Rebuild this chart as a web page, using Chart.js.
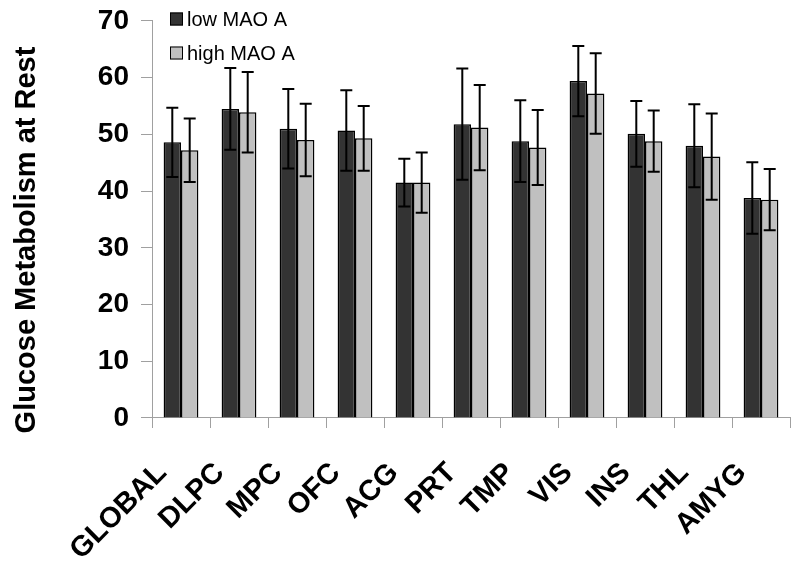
<!DOCTYPE html>
<html>
<head>
<meta charset="utf-8">
<script src="https://cdn.jsdelivr.net/npm/chart.js@4/dist/chart.umd.min.js"></script>
<style>
html,body{margin:0;padding:0;background:#fff;}
canvas{display:block;}
</style>
</head>
<body>
<canvas id="c" width="800" height="561"></canvas>
<script>
const categories = ['GLOBAL','DLPC','MPC','OFC','ACG','PRT','TMP','VIS','INS','THL','AMYG'];
const seriesNames = ['low MAO A','high MAO A'];
const lowMean  = [48.6, 54.5, 51.0, 50.7, 41.5, 51.8, 48.8, 59.4, 50.1, 48.0, 38.8];
const lowSD    = [ 6.1,  7.2,  7.0,  7.1,  4.2,  9.8,  7.2,  6.2,  5.8,  7.3,  6.3];
const highMean = [47.2, 53.9, 49.0, 49.3, 41.5, 51.2, 47.7, 57.2, 48.8, 46.1, 38.5];
const highSD   = [ 5.6,  7.1,  6.4,  5.7,  5.3,  7.5,  6.6,  7.1,  5.4,  7.6,  5.4];
const yTicks   = [0, 10, 20, 30, 40, 50, 60, 70];
const yTitle   = 'Glucose Metabolism at Rest';

const FONT = '"Liberation Sans", Arial, sans-serif';
const errs = [lowSD, highSD];

const errorBars = {
  id: 'errorBars',
  afterDatasetsDraw(chart) {
    const ctx = chart.ctx, ys = chart.scales.y;
    ctx.save();
    ctx.strokeStyle = '#000';
    ctx.lineWidth = 2;
    chart.data.datasets.forEach((ds, di) => {
      const meta = chart.getDatasetMeta(di);
      meta.data.forEach((bar, i) => {
        const v = ds.data[i], e = errs[di][i];
        const yT = ys.getPixelForValue(v + e), yB = ys.getPixelForValue(v - e);
        const x = bar.x, cw = 6;
        ctx.beginPath();
        ctx.moveTo(x, yT); ctx.lineTo(x, yB);
        ctx.moveTo(x - cw, yT); ctx.lineTo(x + cw, yT);
        ctx.moveTo(x - cw, yB); ctx.lineTo(x + cw, yB);
        ctx.stroke();
      });
    });
    ctx.restore();
  }
};

const customLegendTitle = {
  id: 'customLegendTitle',
  afterDraw(chart) {
    const ctx = chart.ctx, ca = chart.chartArea;
    ctx.save();
    chart.data.datasets.forEach((ds, i) => {
      const cy = 19 + i * 34;
      const sx = ca.left + 18;
      ctx.fillStyle = ds.backgroundColor;
      ctx.fillRect(sx, cy - 6.5, 13, 13);
      ctx.strokeStyle = '#000';
      ctx.lineWidth = 1;
      ctx.strokeRect(sx + 0.5, cy - 6, 12, 12);
      ctx.fillStyle = '#000';
      ctx.font = '20px ' + FONT;
      ctx.textAlign = 'left';
      ctx.textBaseline = 'middle';
      ctx.fillText(ds.label, sx + 17, cy + 1);
    });
    ctx.translate(35, 240);
    ctx.rotate(-Math.PI / 2);
    ctx.font = 'bold 29px ' + FONT;
    ctx.textAlign = 'center';
    ctx.textBaseline = 'alphabetic';
    ctx.fillStyle = '#000';
    ctx.fillText(yTitle, 0, 0);
    ctx.restore();
  }
};

new Chart(document.getElementById('c'), {
  type: 'bar',
  data: {
    labels: categories,
    datasets: [
      { label: seriesNames[0], data: lowMean, backgroundColor: '#333333', borderColor: '#000', borderWidth: 1.5, barPercentage: 1.0, categoryPercentage: 0.6 },
      { label: seriesNames[1], data: highMean, backgroundColor: '#c0c0c0', borderColor: '#000', borderWidth: 1.5, barPercentage: 1.0, categoryPercentage: 0.6 }
    ]
  },
  options: {
    responsive: false,
    animation: false,
    devicePixelRatio: 1,
    layout: { padding: { left: 0, right: 10, top: 14, bottom: 0 } },
    plugins: { legend: { display: false }, tooltip: { enabled: false } },
    scales: {
      y: {
        min: 0, max: 70,
        afterBuildTicks(s) { s.ticks = yTicks.map(v => ({ value: v })); },
        afterFit(s) { s.width = 152; },
        ticks: { color: '#000', font: { family: FONT, size: 28, weight: 'bold', lineHeight: 0.64 }, padding: 12 },
        grid: { drawOnChartArea: false, tickLength: 11, color: '#a0a0a0' },
        border: { color: '#a0a0a0', width: 1 }
      },
      x: {
        afterFit(s) { s.height = 143; s.paddingRight = 0; },
        ticks: { color: '#000', font: { family: FONT, size: 29, weight: 'bold' }, minRotation: 45, maxRotation: 45, padding: 28, labelOffset: -19, autoSkip: false },
        grid: { offset: true, drawOnChartArea: false, tickLength: 10, color: '#a0a0a0' },
        border: { color: '#a0a0a0', width: 1 }
      }
    }
  },
  plugins: [errorBars, customLegendTitle]
});
</script>
</body>
</html>
